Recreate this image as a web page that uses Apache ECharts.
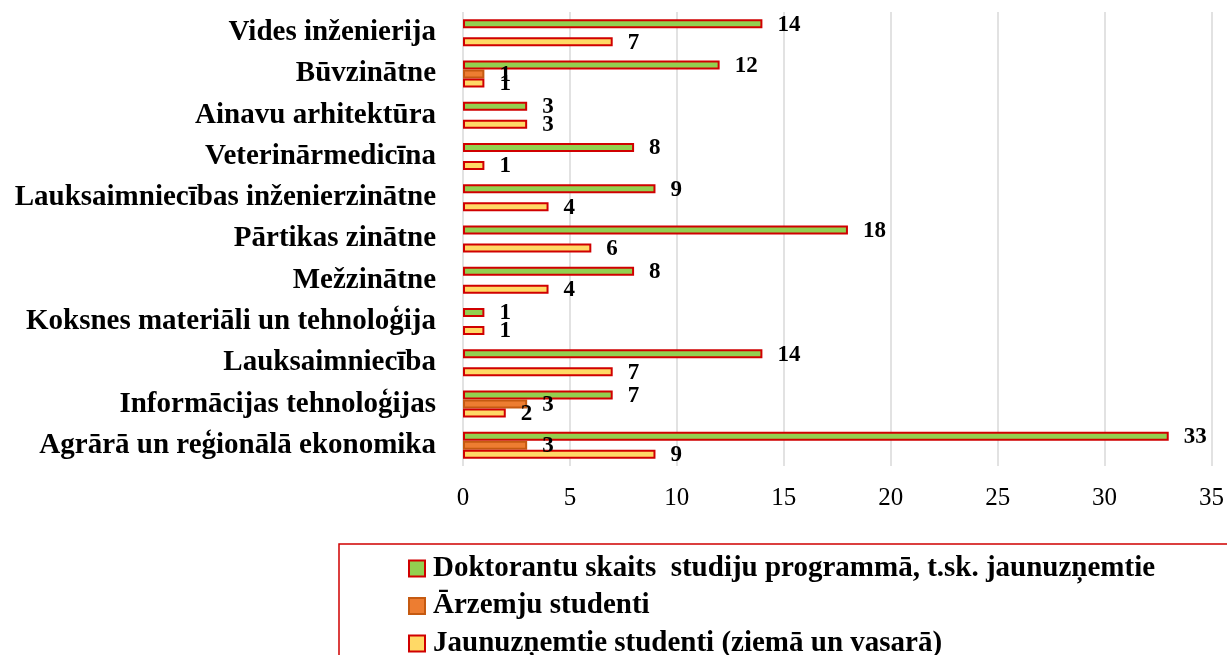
<!doctype html>
<html lang="lv">
<head>
<meta charset="utf-8">
<script src="https://cdn.jsdelivr.net/npm/echarts@6/dist/echarts.min.js"></script>
</head>
<body style="margin:0;background:#fff;">
<div id="chart" style="width:1227px;height:655px;"></div>
<script>
	// kategorijas no apakšas uz augšu
	var categories = ['Agrārā un reģionālā ekonomika', 'Informācijas tehnoloģijas', 'Lauksaimniecība',
		'Koksnes materiāli un tehnoloģija', 'Mežzinātne', 'Pārtikas zinātne',
		'Lauksaimniecības inženierzinātne', 'Veterinārmedicīna', 'Ainavu arhitektūra',
		'Būvzinātne', 'Vides inženierija'];
	var doktoranti = [33, 7, 14, 1, 8, 18, 9, 8, 3, 12, 14];
	var arzemju = [3, 3, null, null, null, null, null, null, null, 1, null];
	var jaunuznemtie = [9, 2, 7, 1, 4, 6, 4, 1, 3, 1, 7];
	var seriesNames = ['Doktorantu skaits  studiju programmā, t.sk. jaunuzņemtie', 'Ārzemju studenti',
		'Jaunuzņemtie studenti (ziemā un vasarā)'];
	var xTicks = { min: 0, max: 35, interval: 5 };

	var serif = '"Liberation Serif", "Times New Roman", serif';
	var lbl = {
		show: true, position: 'right', distance: 15, offset: [0, 1],
		fontFamily: serif, fontWeight: 'bold', fontSize: 23, color: '#000',
		formatter: function (p) { return p.value == null ? '' : p.value; }
	};
	function bar(name, data, fill, border) {
		return {
			name: name, type: 'bar', data: data, barWidth: 9, barGap: '0%',
			itemStyle: { color: fill, borderColor: border, borderWidth: 2 },
			label: lbl
		};
	}

	var chart = echarts.init(document.getElementById('chart'));
	chart.setOption({
		animation: false,
		grid: { left: 463, right: 14, top: 12, bottom: 189 },
		xAxis: {
			type: 'value', min: xTicks.min, max: xTicks.max, interval: xTicks.interval,
			axisLine: { show: false }, axisTick: { show: false },
			splitLine: { lineStyle: { color: '#d9d9d9', width: 1.5 } },
			axisLabel: { fontFamily: serif, fontSize: 25, color: '#000', margin: 20 }
		},
		yAxis: {
			type: 'category', data: categories,
			axisLine: { show: false }, axisTick: { show: false },
			axisLabel: { fontFamily: serif, fontSize: 29, fontWeight: 'bold', color: '#000', margin: 27 }
		},
		legend: {
			orient: 'vertical', left: 403, top: 549, height: 120, itemGap: 8.5,
			itemWidth: 16, itemHeight: 16, icon: 'rect',
			textStyle: { fontFamily: serif, fontSize: 29, fontWeight: 'bold', color: '#000', padding: [0, 0, 0, 3] },
			data: seriesNames
		},
		graphic: [{
			type: 'rect', silent: true,
			shape: { x: 339, y: 544, width: 1000, height: 200 },
			style: { fill: 'none', stroke: '#d00000', lineWidth: 1.5 }
		}],
		series: [
			bar(seriesNames[0], doktoranti, '#92d050', '#d00000'),
			bar(seriesNames[1], arzemju, '#ed7d31', '#c55a11'),
			bar(seriesNames[2], jaunuznemtie, '#ffd966', '#d00000')
		]
	});
</script>
</body>
</html>
